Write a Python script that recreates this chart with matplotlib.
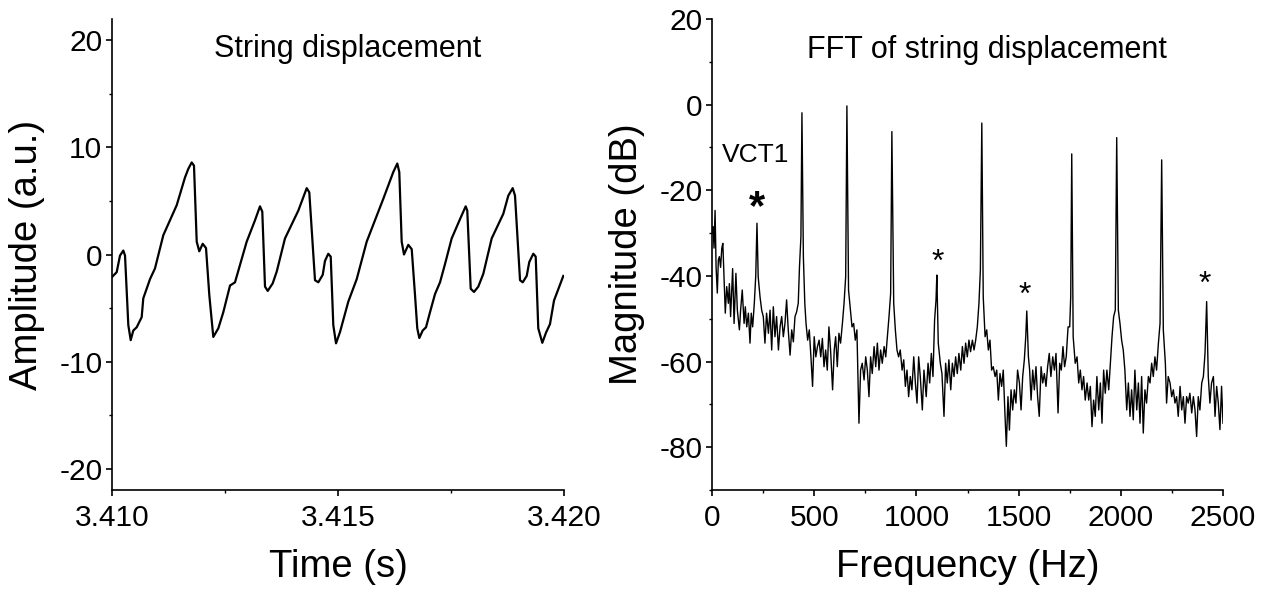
import matplotlib.pyplot as plt
from matplotlib.ticker import MultipleLocator, FormatStrFormatter

plt.rcParams['font.family'] = ['Liberation Sans', 'DejaVu Sans']
plt.rcParams['axes.unicode_minus'] = False

# string displacement
time_s = [3.410000, 3.410104, 3.410177, 3.410250, 3.410288, 3.410361, 3.410414, 3.410471, 3.410546, 3.410657,
          3.410692, 3.410841, 3.410951, 3.411135, 3.411431, 3.411615, 3.411688, 3.411763, 3.411814, 3.411874,
          3.411931, 3.412007, 3.412080, 3.412153, 3.412241, 3.412352, 3.412462, 3.412611, 3.412721, 3.412980,
          3.413164, 3.413274, 3.413325, 3.413385, 3.413445, 3.413555, 3.413644, 3.413827, 3.414122, 3.414308,
          3.414365, 3.414491, 3.414564, 3.414662, 3.414712, 3.414785, 3.414839, 3.414896, 3.414956, 3.415044,
          3.415228, 3.415414, 3.415635, 3.416002, 3.416223, 3.416312, 3.416356, 3.416409, 3.416460, 3.416555,
          3.416631, 3.416704, 3.416754, 3.416799, 3.416874, 3.416947, 3.417035, 3.417146, 3.417257, 3.417367,
          3.417515, 3.417699, 3.417825, 3.417860, 3.417936, 3.418009, 3.418104, 3.418215, 3.418400, 3.418657,
          3.418768, 3.418865, 3.418916, 3.419027, 3.419087, 3.419175, 3.419232, 3.419321, 3.419374, 3.419431,
          3.419520, 3.419602, 3.419690, 3.419779, 3.419985]
amplitude = [-2.1, -1.65, -0.1, 0.37, -0.1, -6.6, -8.0, -7.1, -6.8, -5.85,
             -4.1, -2.3, -1.3, 1.8, 4.6, 7.2, 8.0, 8.6, 8.3, 1.2,
             0.3, 1.0, 0.6, -3.8, -7.7, -6.9, -5.4, -2.9, -2.6, 1.2,
             3.2, 4.5, 4.0, -3.0, -3.4, -2.7, -1.6, 1.5, 4.1, 6.2,
             5.8, -2.4, -2.6, -1.9, -0.6, 0.07, -0.2, -6.6, -8.3, -7.25,
             -4.4, -2.3, 1.2, 5.2, 7.7, 8.5, 7.7, 1.2, 0.0, 0.9,
             0.5, -3.8, -6.9, -7.8, -7.1, -6.8, -5.4, -3.7, -2.6, -0.9,
             1.5, 3.3, 4.5, 4.1, -3.2, -3.5, -3.0, -1.8, 1.5, 3.8,
             5.5, 6.2, 5.5, -2.4, -2.6, -2.0, -0.7, 0.07, -0.2, -6.9,
             -8.25, -7.3, -6.5, -4.3, -2.0]

# FFT magnitude
freq_hz = [0, 5, 10, 15, 20, 26, 31, 36, 42, 48, 53, 59, 65, 72, 80, 85, 91, 101, 108, 117,
           124, 134, 140, 148, 157, 163, 170, 178, 186, 192, 199, 207, 214, 220, 226, 235, 243, 251, 259, 267,
           276, 284, 292, 300, 308, 316, 325, 333, 341, 349, 357, 365, 373, 382, 390, 398, 406, 414, 422, 428,
           435, 440, 447, 454, 460, 468, 476, 484, 492, 500, 508, 516, 524, 532, 540, 548, 556, 564, 572, 580,
           590, 598, 605, 613, 621, 629, 638, 646, 654, 660, 668, 677, 685, 693, 701, 709, 719, 727, 735, 744,
           752, 760, 768, 776, 784, 793, 801, 809, 817, 825, 833, 842, 850, 858, 866, 874, 880, 889, 897, 905,
           913, 921, 930, 938, 946, 954, 962, 970, 978, 987, 995, 1003, 1011, 1019, 1029, 1037, 1048, 1057, 1065, 1073,
           1081, 1089, 1096, 1100, 1107, 1117, 1125, 1135, 1143, 1151, 1159, 1168, 1176, 1184, 1192, 1200, 1208, 1217, 1225, 1233,
           1241, 1249, 1257, 1265, 1274, 1282, 1290, 1298, 1306, 1313, 1320, 1327, 1336, 1344, 1352, 1360, 1368, 1376, 1385, 1393,
           1401, 1409, 1417, 1425, 1433, 1440, 1448, 1455, 1463, 1471, 1479, 1487, 1495, 1504, 1512, 1520, 1528, 1535, 1540, 1548,
           1554, 1561, 1569, 1577, 1585, 1593, 1601, 1610, 1618, 1626, 1634, 1642, 1650, 1658, 1667, 1675, 1683, 1693, 1701, 1709,
           1717, 1725, 1733, 1742, 1750, 1755, 1760, 1767, 1777, 1786, 1794, 1802, 1810, 1818, 1826, 1835, 1843, 1851, 1859, 1867,
           1875, 1883, 1892, 1900, 1908, 1916, 1924, 1932, 1941, 1949, 1957, 1965, 1973, 1980, 1988, 1996, 2004, 2012, 2020, 2029,
           2037, 2045, 2053, 2061, 2069, 2078, 2086, 2094, 2102, 2110, 2118, 2126, 2135, 2143, 2151, 2159, 2167, 2175, 2184, 2192,
           2200, 2208, 2218, 2224, 2232, 2241, 2249, 2257, 2265, 2273, 2281, 2290, 2298, 2306, 2314, 2322, 2330, 2338, 2347, 2355,
           2363, 2371, 2379, 2387, 2396, 2404, 2412, 2420, 2428, 2436, 2444, 2453, 2461, 2469, 2477, 2485, 2493, 2500]
magnitude_db = [-30.0, -28.5, -33.5, -24.7, -38.0, -44.0, -36.3, -35.5, -38.0, -33.5, -32.4, -40.2, -48.7, -42.5, -46.4, -41.8, -49.5, -38.3, -51.1, -39.4,
                -48.0, -52.6, -48.0, -43.3, -51.1, -47.2, -51.9, -48.7, -55.7, -48.7, -51.9, -46.4, -40.0, -27.7, -40.2, -44.9, -48.0, -49.5, -55.7, -48.7,
                -53.4, -48.0, -57.3, -47.2, -54.2, -49.5, -57.3, -51.9, -49.5, -54.2, -51.1, -45.6, -52.6, -58.5, -52.6, -55.4, -49.5, -48.4, -46.4, -37.9,
                -30.9, -1.9, -35.5, -46.4, -51.1, -55.0, -52.6, -58.9, -65.8, -54.2, -58.9, -56.5, -55.0, -58.9, -54.6, -61.2, -57.3, -62.0, -51.9, -57.3,
                -66.6, -57.3, -54.2, -61.2, -53.4, -55.7, -51.1, -46.4, -40.2, -0.3, -43.3, -48.0, -51.9, -51.1, -55.0, -52.6, -74.4, -62.0, -60.4, -64.3,
                -58.9, -62.0, -68.2, -58.9, -62.8, -56.5, -61.2, -55.7, -62.0, -57.3, -60.4, -56.5, -58.9, -54.2, -49.5, -44.1, -6.3, -46.4, -52.6, -57.3,
                -58.9, -57.3, -62.0, -59.6, -65.8, -62.0, -68.2, -63.5, -66.6, -58.9, -65.0, -69.7, -58.9, -63.5, -71.3, -62.0, -68.2, -60.4, -65.0, -58.1,
                -63.5, -50.3, -45.6, -39.8, -55.7, -60.4, -62.8, -72.8, -60.4, -65.0, -59.6, -66.6, -60.4, -63.5, -58.9, -62.8, -58.1, -62.0, -56.5, -60.4,
                -55.7, -58.9, -55.0, -57.7, -55.0, -57.3, -55.0, -51.9, -46.4, -38.6, -4.3, -44.9, -54.2, -52.6, -57.3, -55.0, -62.0, -61.2, -63.5, -62.0,
                -69.0, -62.8, -65.8, -62.0, -72.0, -79.8, -68.2, -76.0, -66.6, -71.3, -66.6, -69.7, -62.0, -65.0, -71.3, -63.5, -59.6, -54.2, -48.2, -58.9,
                -62.0, -69.0, -62.0, -66.6, -61.2, -68.2, -72.8, -61.2, -65.0, -62.8, -65.8, -61.2, -58.1, -63.5, -58.9, -62.0, -58.1, -72.0, -60.4, -62.0,
                -56.5, -61.2, -58.9, -51.9, -51.9, -44.9, -11.5, -54.2, -60.4, -58.9, -65.0, -62.0, -66.6, -63.5, -69.0, -65.0, -69.0, -65.8, -75.2, -69.0,
                -72.8, -63.5, -71.3, -65.0, -74.4, -62.0, -67.4, -62.0, -66.6, -60.4, -54.2, -49.5, -48.0, -7.7, -48.0, -51.1, -55.0, -57.3, -62.0, -71.3,
                -65.0, -72.8, -66.6, -73.6, -62.0, -71.3, -65.0, -74.4, -63.5, -76.7, -66.6, -69.7, -63.5, -65.0, -60.4, -63.5, -58.9, -62.0, -55.7, -51.1,
                -12.9, -52.6, -60.4, -69.7, -63.5, -65.0, -68.2, -66.6, -69.7, -68.2, -72.8, -65.8, -71.3, -68.2, -74.4, -68.2, -69.7, -67.4, -72.0, -68.2,
                -71.3, -77.5, -68.2, -71.3, -65.0, -63.5, -58.1, -46.0, -63.5, -69.7, -65.0, -63.5, -72.8, -65.8, -69.7, -75.9, -65.8, -74.4]

# asterisks over the odd partials (centre of each mark)
star_hz = [222, 1105, 1530, 2410]
star_db = [-22.6, -35.8, -43.3, -40.9]

fig = plt.figure(figsize=(12.7, 5.94), dpi=100)
ax1 = fig.add_axes([112 / 1270, 104 / 594, 452 / 1270, 471 / 594])
ax2 = fig.add_axes([712 / 1270, 104 / 594, 511 / 1270, 471 / 594])

ax1.plot(time_s, amplitude, color='black', lw=1.6)
ax1.set_xlim(3.410, 3.420)
ax1.set_ylim(-22, 22)
ax1.xaxis.set_major_locator(MultipleLocator(0.005))
ax1.xaxis.set_minor_locator(MultipleLocator(0.0025))
ax1.xaxis.set_major_formatter(FormatStrFormatter('%.3f'))
ax1.yaxis.set_major_locator(MultipleLocator(10))
ax1.yaxis.set_minor_locator(MultipleLocator(5))
ax1.set_xlabel('Time (s)', fontsize=27.5, labelpad=12)
ax1.set_ylabel('Amplitude (a.u.)', fontsize=27.5, labelpad=10)
ax1.text(0.522, 0.919, 'String displacement', transform=ax1.transAxes,
         ha='center', va='baseline', fontsize=22)

ax2.plot(freq_hz, magnitude_db, color='black', lw=1.0)
ax2.set_xlim(0, 2500)
ax2.set_ylim(-90, 20)
ax2.xaxis.set_major_locator(MultipleLocator(500))
ax2.xaxis.set_minor_locator(MultipleLocator(250))
ax2.yaxis.set_major_locator(MultipleLocator(20))
ax2.yaxis.set_minor_locator(MultipleLocator(10))
ax2.set_xlabel('Frequency (Hz)', fontsize=27.5, labelpad=12)
ax2.set_ylabel('Magnitude (dB)', fontsize=27.5, labelpad=10)
ax2.text(0.538, 0.918, 'FFT of string displacement', transform=ax2.transAxes,
         ha='center', va='baseline', fontsize=22)
ax2.text(49, -13.5, 'VCT1', ha='left', va='baseline', fontsize=19)

for i, (x, y) in enumerate(zip(star_hz, star_db)):
    size = 30 if i == 0 else 23
    ax2.annotate('*', xy=(x, y), xytext=(0, -0.42 * size), textcoords='offset points',
                 ha='center', va='baseline', fontsize=size,
                 fontweight='bold' if i == 0 else 'normal')

for ax in (ax1, ax2):
    ax.spines['top'].set_visible(False)
    ax.spines['right'].set_visible(False)
    ax.spines['left'].set_linewidth(1.2)
    ax.spines['bottom'].set_linewidth(1.2)
    ax.tick_params(which='major', direction='out', length=4, width=1.2, labelsize=21.5, pad=3)
    ax.tick_params(which='minor', direction='out', length=2.2, width=1.0)
    ax.tick_params(axis='x', which='major', pad=6)

fig.savefig('out.png', dpi=100)
